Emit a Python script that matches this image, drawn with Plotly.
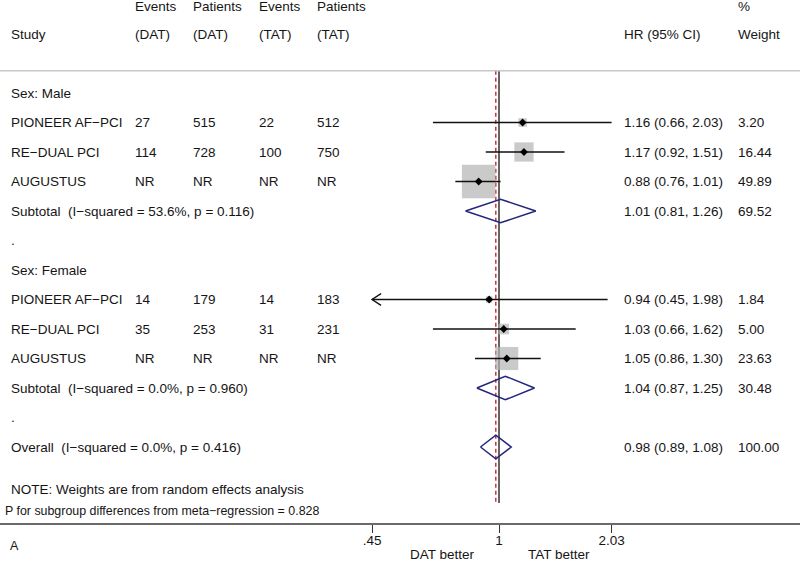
import math
import plotly.graph_objects as go

# ---------------- data ----------------
row_labels = ["Sex: Male", "PIONEER AF\u2212PCI", "RE\u2212DUAL PCI", "AUGUSTUS",
              "Subtotal  (I\u2212squared = 53.6%, p = 0.116)", ".",
              "Sex: Female", "PIONEER AF\u2212PCI", "RE\u2212DUAL PCI", "AUGUSTUS",
              "Subtotal  (I\u2212squared = 0.0%, p = 0.960)", ".",
              "Overall  (I\u2212squared = 0.0%, p = 0.416)"]
row_kind = ["group", "study", "study", "study", "pooled", "blank",
            "group", "study", "study", "study", "pooled", "blank", "pooled"]
events_dat = ["", "27", "114", "NR", "", "", "", "14", "35", "NR", "", "", ""]
patients_dat = ["", "515", "728", "NR", "", "", "", "179", "253", "NR", "", "", ""]
events_tat = ["", "22", "100", "NR", "", "", "", "14", "31", "NR", "", "", ""]
patients_tat = ["", "512", "750", "NR", "", "", "", "183", "231", "NR", "", "", ""]
hr = [None, 1.16, 1.17, 0.88, 1.01, None, None, 0.94, 1.03, 1.05, 1.04, None, 0.98]
ci_low = [None, 0.66, 0.92, 0.76, 0.81, None, None, 0.45, 0.66, 0.86, 0.87, None, 0.89]
ci_high = [None, 2.03, 1.51, 1.01, 1.26, None, None, 1.98, 1.62, 1.30, 1.25, None, 1.08]
weight = [None, 3.20, 16.44, 49.89, 69.52, None, None, 1.84, 5.00, 23.63, 30.48, None, 100.00]

header_top = ["Events", "Patients", "Events", "Patients", "", "%"]
header_bottom = ["(DAT)", "(DAT)", "(TAT)", "(TAT)", "HR (95% CI)", "Weight"]
tick_values = [0.45, 1, 2.03]
tick_labels = [".45", "1", "2.03"]
overall_hr = 0.98
left_label = "DAT better"
right_label = "TAT better"
note_text = "NOTE: Weights are from random effects analysis"
p_text = "P for subgroup differences from meta\u2212regression = 0.828"
panel_label = "A"

# ---------------- geometry ----------------
W, H = 800, 563
PLOT_H = 523           # plot area height (axis line at bottom)
ROW0_PX = 93.0         # pixel of first row
ROW_PX = 29.5          # pixels per row
PX_PER_LN = 159.0      # pixels per natural-log unit on x
NULL_PX = 499.0        # pixel of HR = 1

per_log10 = PX_PER_LN * math.log(10)
xr0 = -NULL_PX / per_log10
xr1 = xr0 + W / per_log10
yr1 = ROW0_PX / ROW_PX
yr0 = yr1 - PLOT_H / ROW_PX


def ypx(px):
    return 1 - px / PLOT_H


def xpx(px):
    return px / W


FONT = "Liberation Sans, Arial, Helvetica, sans-serif"
FS = 13.5
TXT = "#151515"
NAVY = "#25257e"

fig = go.Figure()

rows_y = [-k for k in range(len(row_labels))]

# vertical null line and overall line
top_row = yr1 - 70.7 / ROW_PX
bot_row = yr1 - 503 / ROW_PX
fig.add_trace(go.Scatter(x=[1, 1], y=[top_row, bot_row], mode="lines",
                         line=dict(color="#111111", width=1.3), hoverinfo="skip", showlegend=False))
fig.add_trace(go.Scatter(x=[overall_hr, overall_hr], y=[top_row, bot_row], mode="lines",
                         line=dict(color="#d0303f", width=1.5, dash="4px,3px"),
                         hoverinfo="skip", showlegend=False))

# weight squares
sq_x, sq_y, sq_s = [], [], []
for i, k in enumerate(row_kind):
    if k == "study":
        sq_x.append(hr[i]); sq_y.append(rows_y[i]); sq_s.append(4.75 * math.sqrt(weight[i]))
fig.add_trace(go.Scatter(x=sq_x, y=sq_y, mode="markers",
                         marker=dict(symbol="square", size=sq_s, color="#b4b4b4",
                                     line=dict(width=0)),
                         hoverinfo="skip", showlegend=False))

# CI lines
axis_min = tick_values[0]
for i, k in enumerate(row_kind):
    if k == "study":
        fig.add_trace(go.Scatter(x=[ci_low[i], ci_high[i]], y=[rows_y[i]] * 2, mode="lines",
                                 line=dict(color="#111111", width=1.4),
                                 hoverinfo="skip", showlegend=False))
        if ci_low[i] <= axis_min:
            f = math.exp(9 / PX_PER_LN)
            fig.add_trace(go.Scatter(x=[ci_low[i] * f, ci_low[i], ci_low[i] * f],
                                     y=[rows_y[i] + 0.2, rows_y[i], rows_y[i] - 0.2],
                                     mode="lines", line=dict(color="#111111", width=1.4),
                                     hoverinfo="skip", showlegend=False))

# point estimates
fig.add_trace(go.Scatter(x=sq_x, y=sq_y, mode="markers",
                         marker=dict(symbol="diamond", size=6, color="#000000"),
                         hoverinfo="skip", showlegend=False))

# pooled diamonds
h = 0.4
for i, k in enumerate(row_kind):
    if k == "pooled":
        y0 = rows_y[i]
        fig.add_trace(go.Scatter(x=[ci_low[i], hr[i], ci_high[i], hr[i], ci_low[i]],
                                 y=[y0, y0 + h, y0, y0 - h, y0], mode="lines",
                                 line=dict(color=NAVY, width=1.5),
                                 hoverinfo="skip", showlegend=False))

ann = []


def txt(x, y, s, xref="paper", yref="y", anchor="left", size=FS):
    ann.append(dict(x=x, y=y, xref=xref, yref=yref, text=s, showarrow=False,
                    xanchor=anchor, yanchor="middle",
                    font=dict(family=FONT, size=size, color=TXT)))


col_px = [132.7, 190.7, 257.3, 315.3, 621.7, 735.7]
# headers
for j, s in enumerate(header_top):
    if s:
        txt(xpx(col_px[j]), ypx(6.5), s, yref="paper")
txt(xpx(9.3), ypx(35), "Study", yref="paper")
for j, s in enumerate(header_bottom):
    txt(xpx(col_px[j]), ypx(35), s, yref="paper")

# rows
for i, lab in enumerate(row_labels):
    y0 = rows_y[i]
    txt(xpx(9.3), y0, lab)
    for j, col in enumerate([events_dat, patients_dat, events_tat, patients_tat]):
        if col[i]:
            txt(xpx(col_px[j]), y0, col[i])
    if hr[i] is not None:
        txt(xpx(col_px[4]), y0, f"{hr[i]:.2f} ({ci_low[i]:.2f}, {ci_high[i]:.2f})")
        txt(xpx(col_px[5]), y0, f"{weight[i]:.2f}")

# footer
txt(xpx(9.3), ypx(489), note_text, yref="paper")
txt(xpx(3), ypx(511), p_text, yref="paper", size=12.4)
txt(xpx(8), ypx(546), panel_label, yref="paper", size=12.5)
txt(math.log10(0.7), ypx(554.5), left_label, xref="x", yref="paper", anchor="center")
txt(math.log10(1.46), ypx(554.5), right_label, xref="x", yref="paper", anchor="center")

shapes = [dict(type="line", xref="paper", yref="paper", x0=0, x1=1,
               y0=ypx(70.7), y1=ypx(70.7), line=dict(color="#c8c8c8", width=1.5))]

fig.update_layout(
    width=W, height=H, margin=dict(l=0, r=0, t=0, b=H - PLOT_H),
    paper_bgcolor="white", plot_bgcolor="white",
    annotations=ann, shapes=shapes, showlegend=False,
    xaxis=dict(type="log", range=[xr0, xr1], tickvals=tick_values, ticktext=tick_labels,
               showgrid=False, zeroline=False, showline=True, linecolor="#6a6a6a",
               linewidth=1.6, ticks="outside", ticklen=8, tickwidth=1.3,
               tickcolor="#333333", tickfont=dict(family=FONT, size=FS, color=TXT),
               ticklabelstandoff=-4, fixedrange=True),
    yaxis=dict(range=[yr0, yr1], visible=False, fixedrange=True),
)

fig.write_html("out.html", config={"displayModeBar": False},
               post_script="document.body.style.margin='0';document.body.style.overflow='hidden';")
